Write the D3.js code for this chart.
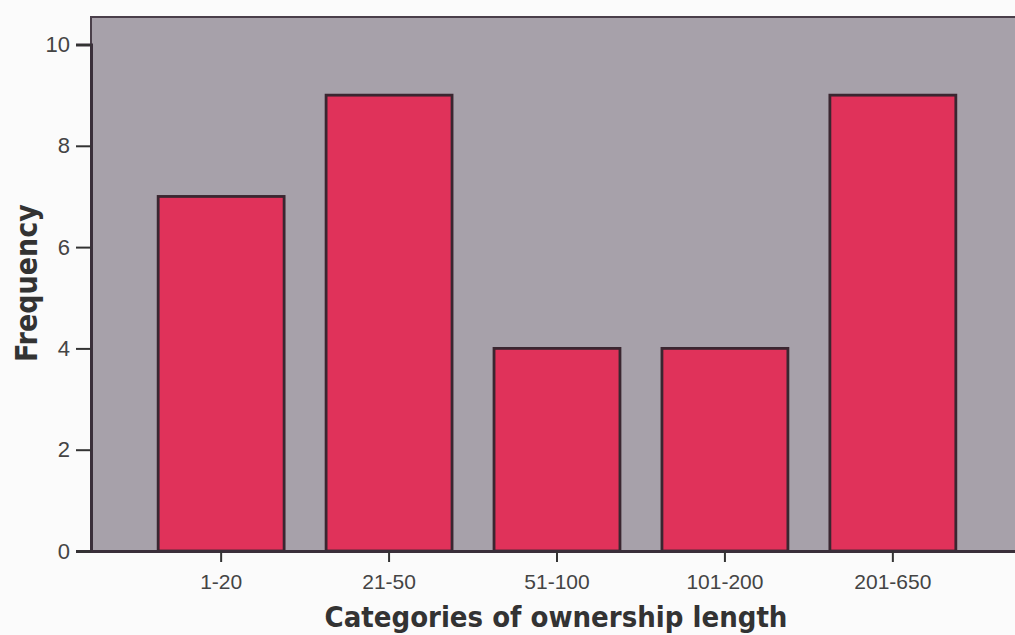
<!DOCTYPE html>
<html><head><meta charset="utf-8">
<script src="https://cdn.jsdelivr.net/npm/d3@7"></script>
<style>html,body{margin:0;padding:0;background:#fbfbfb;}svg{display:block;}</style>
</head><body>
<svg id="chart" width="1015" height="635"></svg>
<script>
const categories = ["1-20", "21-50", "51-100", "101-200", "201-650"];
const frequency = [7, 9, 4, 4, 9];
const yTicks = [0, 2, 4, 6, 8, 10];

const svg = d3.select("#chart");
const left = 91, right = 1023, bottom = 551;
const x = d3.scaleBand().domain(categories).range([left, right]).paddingInner(0.25).paddingOuter(0.4);
const y = d3.scaleLinear().domain([0, 10]).range([bottom, 44.5]);
const yTop = 17;

svg.append("rect").attr("x", left).attr("y", yTop).attr("width", right - left).attr("height", bottom - yTop)
  .attr("fill", "#a7a1aa").attr("stroke", "#4a3f4a").attr("stroke-width", 2);

svg.selectAll("rect.bar").data(categories).enter().append("rect").attr("class", "bar")
  .attr("x", d => x(d)).attr("width", x.bandwidth())
  .attr("y", (d, i) => y(frequency[i])).attr("height", (d, i) => bottom - y(frequency[i]))
  .attr("fill", "#e0325a").attr("stroke", "#3a2630").attr("stroke-width", 2.8);

const yAxis = svg.append("g").attr("transform", `translate(${left},0)`)
  .call(d3.axisLeft(y).tickValues(yTicks).tickSize(15).tickPadding(6).tickFormat(d3.format("d")));
yAxis.select(".domain").attr("stroke", "#3a2f3a").attr("stroke-width", 3);
yAxis.selectAll(".tick line").attr("stroke", "#333").attr("stroke-width", 2);
yAxis.selectAll("text").attr("font-family", "Liberation Sans, Arial, sans-serif").attr("font-size", 22).attr("fill", "#444");

const xAxis = svg.append("g").attr("transform", `translate(0,${bottom})`)
  .call(d3.axisBottom(x).tickSize(11).tickPadding(12).tickSizeOuter(0));
xAxis.select(".domain").attr("stroke", "#3a2f3a").attr("stroke-width", 3);
xAxis.selectAll(".tick line").attr("stroke", "#333").attr("stroke-width", 2);
xAxis.selectAll("text").attr("font-family", "Liberation Sans, Arial, sans-serif").attr("font-size", 21).attr("fill", "#444");

svg.append("text").attr("x", 556).attr("y", 627).attr("text-anchor", "middle")
  .attr("font-family", "DejaVu Sans Condensed, DejaVu Sans, sans-serif").attr("font-weight", "bold").attr("font-size", 29)
  .attr("fill", "#333").text("Categories of ownership length");

svg.append("text").attr("transform", "translate(37,283) rotate(-90)").attr("text-anchor", "middle")
  .attr("font-family", "DejaVu Sans Condensed, DejaVu Sans, sans-serif").attr("font-weight", "bold").attr("font-size", 30)
  .attr("fill", "#333").text("Frequency");
</script>
</body></html>
